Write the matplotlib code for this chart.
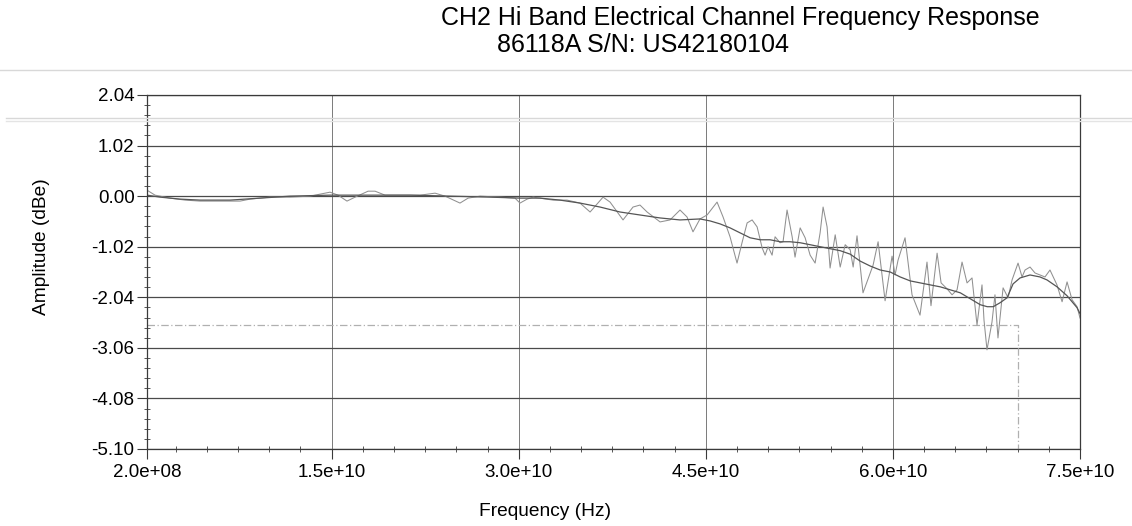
import numpy as np
import matplotlib
matplotlib.use("Agg")
import matplotlib.pyplot as plt
from matplotlib.lines import Line2D
from matplotlib.ticker import MultipleLocator

plt.rcParams["font.family"] = ["Liberation Sans", "DejaVu Sans"]

# Raw measured trace (GHz, dBe)
freq_raw = [0.2, 0.84, 2.04, 3.25, 4.45, 6.05, 7.66, 8.46, 10.06, 11.67, 13.27, 14.87, 15.51, 16.23,
            16.88, 17.92, 18.48, 19.28, 20.48, 22.09, 23.29, 24.09, 25.29, 25.94, 26.90, 28.50, 29.70,
            30.10, 30.67, 31.15, 32.75, 33.87, 34.91, 35.72, 36.76, 37.32, 38.36, 39.16, 39.72, 40.29,
            41.33, 42.13, 42.93, 43.49, 43.97, 44.53, 45.10, 45.90, 46.38, 46.94, 47.50, 47.90, 48.31,
            48.71, 49.11, 49.51, 49.75, 49.99, 50.31, 50.55, 50.95, 51.19, 51.51, 51.92, 52.15, 52.56,
            52.96, 53.36, 53.76, 54.16, 54.40, 54.72, 54.96, 55.37, 55.77, 56.17, 56.57, 56.81, 57.12,
            57.60, 58.41, 58.81, 59.37, 59.93, 60.17, 60.41, 60.97, 61.53, 62.17, 62.73, 63.05, 63.54,
            63.86, 64.34, 64.74, 65.14, 65.54, 65.94, 66.34, 66.74, 67.14, 67.30, 67.54, 67.94, 68.18,
            68.42, 68.83, 69.23, 69.55, 70.03, 70.35, 70.59, 70.99, 71.39, 71.79, 72.19, 72.59, 73.15,
            73.56, 73.96, 74.36, 74.76, 75.0]
amp_raw = [0.12, 0.02, -0.04, -0.08, -0.10, -0.10, -0.10, -0.06, -0.02, -0.02, 0.00, 0.08, 0.02, -0.10,
           -0.02, 0.10, 0.10, 0.02, 0.02, 0.02, 0.06, 0.00, -0.14, -0.04, 0.00, -0.02, -0.04,
           -0.14, -0.06, -0.02, -0.08, -0.08, -0.14, -0.32, -0.02, -0.12, -0.48, -0.22, -0.18, -0.32,
           -0.52, -0.48, -0.28, -0.42, -0.72, -0.46, -0.38, -0.12, -0.42, -0.82, -1.35, -0.94, -0.54,
           -0.48, -0.62, -1.04, -1.19, -1.02, -1.19, -0.82, -0.94, -0.92, -0.28, -0.82, -1.23, -0.64,
           -0.84, -1.19, -1.35, -0.74, -0.22, -0.62, -1.45, -0.78, -1.43, -0.98, -1.08, -1.43, -0.80,
           -1.95, -1.39, -0.92, -2.11, -1.21, -1.59, -1.29, -0.84, -1.99, -2.40, -1.33, -2.21, -1.15,
           -1.75, -1.87, -1.99, -1.89, -1.33, -1.75, -1.65, -2.60, -1.79, -2.50, -3.10, -2.54, -1.99,
           -2.86, -1.85, -2.05, -1.69, -1.35, -1.63, -1.49, -1.43, -1.55, -1.59, -1.63, -1.49, -1.79,
           -2.13, -1.73, -2.09, -2.23, -2.46]

# Smoothed trace (GHz, dBe)
freq_smooth = [0.2, 1.24, 2.85, 4.45, 6.85, 9.26, 11.66, 14.87, 18.08, 21.28, 24.49, 27.70, 30.10, 31.71,
               33.31, 34.91, 36.52, 38.12, 39.72, 41.33, 42.93, 44.53, 45.34, 46.14, 46.94, 47.74, 48.55,
               49.35, 50.15, 50.95, 51.75, 52.56, 53.36, 54.16, 54.96, 55.77, 56.57, 57.37, 58.18, 58.98,
               59.78, 60.58, 61.39, 62.19, 62.99, 63.80, 64.60, 65.40, 66.20, 67.00, 67.56, 68.04, 68.59,
               69.15, 69.63, 70.19, 70.99, 71.79, 72.35, 73.16, 73.96, 74.76, 75.0]
amp_smooth = [0.02, -0.02, -0.06, -0.08, -0.08, -0.04, 0.00, 0.02, 0.02, 0.02, 0.00, -0.02, -0.04, -0.04,
              -0.08, -0.14, -0.22, -0.32, -0.38, -0.44, -0.48, -0.46, -0.50, -0.56, -0.64, -0.74, -0.84,
              -0.88, -0.88, -0.92, -0.92, -0.94, -0.98, -1.02, -1.06, -1.10, -1.17, -1.31, -1.41, -1.49,
              -1.53, -1.63, -1.71, -1.75, -1.79, -1.83, -1.89, -1.95, -2.07, -2.19, -2.23, -2.23, -2.15,
              -2.05, -1.77, -1.65, -1.59, -1.63, -1.69, -1.83, -2.01, -2.25, -2.37]

# Spec limit line
limit_freq = [0.2, 70.0, 70.0]
limit_amp = [-2.60, -2.60, -5.10]

y_ticks = [2.04, 1.02, 0.00, -1.02, -2.04, -3.06, -4.08, -5.10]
x_ticks = [0.2e9, 15e9, 30e9, 45e9, 60e9, 75e9]
x_labels = ["2.0e+08", "1.5e+10", "3.0e+10", "4.5e+10", "6.0e+10", "7.5e+10"]

fig = plt.figure(figsize=(11.32, 5.26), dpi=100)
ax = fig.add_axes([0.1299, 0.1464, 0.8242, 0.673])

ax.plot(np.array(limit_freq) * 1e9, limit_amp, color="#b0b0b0", lw=0.9, ls=(0, (6, 2, 1, 2)))
ax.plot(np.array(freq_raw) * 1e9, amp_raw, color="#909090", lw=0.75)
ax.plot(np.array(freq_smooth) * 1e9, amp_smooth, color="#555555", lw=0.9)

ax.set_xlim(0.2e9, 75e9)
ax.set_ylim(-5.10, 2.04)
ax.set_xticks(x_ticks)
ax.set_xticklabels(x_labels)
ax.set_yticks(y_ticks)
ax.set_yticklabels([f"{v:.2f}" for v in y_ticks])
ax.xaxis.set_minor_locator(MultipleLocator(2.5e9))
ax.yaxis.set_minor_locator(MultipleLocator(0.204))

ax.grid(axis="y", which="major", color="#4a4a4a", lw=0.9)
ax.grid(axis="x", which="major", color="#7a7a7a", lw=0.7)
for s in ax.spines.values():
    s.set_color("#3a3a3a")
    s.set_linewidth(0.9)

ax.tick_params(which="major", direction="out", length=7, width=0.8, color="#3a3a3a",
               labelsize=13.5, pad=2)
ax.tick_params(which="minor", direction="inout", length=5, width=0.6, color="#3a3a3a")
ax.tick_params(axis="x", labelsize=13.5, pad=4)

ax.set_xlabel("Frequency (Hz)", fontsize=13.8)
ax.set_ylabel("Amplitude (dBe)", fontsize=13.8)
ax.xaxis.set_label_coords(0.4266, -0.153)
ax.yaxis.set_label_coords(-0.104, 0.571)

fig.text(0.654, 0.965, "CH2 Hi Band Electrical Channel Frequency Response",
         ha="center", va="center", fontsize=18)
fig.text(0.568, 0.914, "86118A S/N: US42180104", ha="center", va="center", fontsize=18)

# scanner artifacts from the original printout
fig.add_artist(Line2D([0, 1], [0.867, 0.867], color="#d8d8d8", lw=1.0))
fig.add_artist(Line2D([0.005, 1], [0.776, 0.776], color="#d8d8d8", lw=1.0))
fig.add_artist(Line2D([0.005, 1], [0.770, 0.770], color="#e4e4e4", lw=1.0))

fig.savefig("out.png", dpi=100)
